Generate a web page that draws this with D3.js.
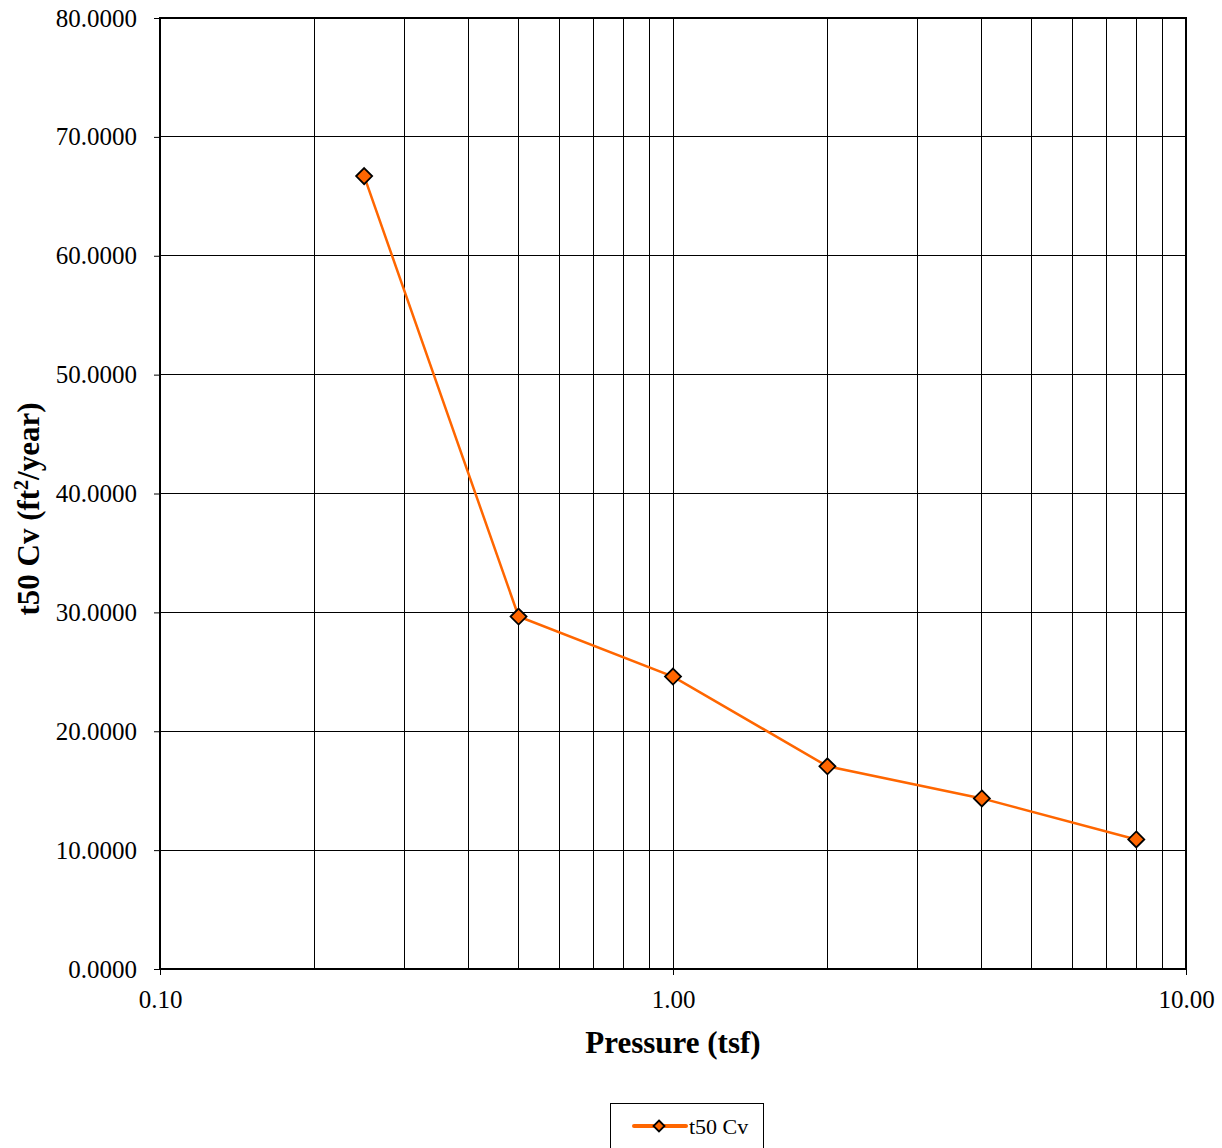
<!DOCTYPE html>
<html><head><meta charset="utf-8">
<script src="https://cdn.jsdelivr.net/npm/d3@7"></script>
<style>body{margin:0;background:#fff}svg{display:block}text{font-family:"Liberation Serif","Times New Roman",serif}</style>
</head><body><div id="chart"></div>
<script>
const pressure = [0.25, 0.5, 1, 2, 4, 8];
const cv = [66.7, 29.65, 24.6, 17.05, 14.35, 10.9];
const seriesName = "t50 Cv";
const xTickValues = [0.1, 1, 10];
const yTickValues = [0, 10, 20, 30, 40, 50, 60, 70, 80];
const xTitle = "Pressure (tsf)";

const W = 1222, H = 1148;
const m = {l:160, t:18, r:1186, b:969};
const svg = d3.select("#chart").append("svg").attr("width", W).attr("height", H);
const x = d3.scaleLog().domain([0.1, 10]).range([m.l, m.r]);
const y = d3.scaleLinear().domain([0, 80]).range([m.b, m.t]);

// minor grid verticals
const minor = [];
for (let d = 0.1; d < 10; d *= 10) for (let k = 2; k <= 9; k++) minor.push(+(d*k).toFixed(3));
const grid = svg.append("g");
grid.selectAll(".vx").data(minor.concat([1])).join("line")
  .attr("x1", d=>x(d)).attr("x2", d=>x(d)).attr("y1", m.t).attr("y2", m.b)
  .attr("stroke", "#000").attr("stroke-width", 1).attr("shape-rendering","crispEdges");
grid.selectAll(".hy").data(yTickValues.slice(1, -1)).join("line")
  .attr("x1", m.l).attr("x2", m.r).attr("y1", d=>y(d)).attr("y2", d=>y(d))
  .attr("stroke", "#000").attr("stroke-width", 1).attr("shape-rendering","crispEdges");

// frame
svg.append("rect").attr("x", m.l).attr("y", m.t).attr("width", m.r-m.l).attr("height", m.b-m.t)
  .attr("fill","none").attr("stroke","#000").attr("stroke-width",2);

// axes
const yAxis = d3.axisLeft(y).tickValues(yTickValues).tickSize(6).tickPadding(17).tickFormat(d=>d3.format(".4f")(d));
const gy = svg.append("g").attr("transform", `translate(${m.l},0)`).call(yAxis);
gy.select(".domain").remove();
gy.selectAll("text").attr("font-size", 25).attr("fill","#000");
gy.selectAll("line").attr("stroke","#000");

const xAxis = d3.axisBottom(x).tickValues(xTickValues).tickSize(6).tickPadding(15).tickFormat(d=>d3.format(".2f")(d));
const gx = svg.append("g").attr("transform", `translate(0,${m.b})`).call(xAxis);
gx.select(".domain").remove();
gx.selectAll("text").attr("font-size", 25).attr("fill","#000");
gx.selectAll("line").attr("stroke","#000");

// titles
svg.append("text").attr("x", (m.l+m.r)/2).attr("y", 1053).attr("text-anchor","middle")
  .attr("font-size", 31).attr("font-weight","bold").text(xTitle);
const yt = svg.append("text").attr("transform", `translate(39,509) rotate(-90)`)
  .attr("text-anchor","middle").attr("font-size", 31).attr("font-weight","bold");
yt.append("tspan").text("t50 Cv (ft");
yt.append("tspan").attr("baseline-shift","super").attr("font-size",20).text("2");
yt.append("tspan").text("/year)");

// series
const data = pressure.map((p,i)=>({p, v:cv[i]}));
const color = "#FF6600";
svg.append("path").datum(data).attr("fill","none").attr("stroke",color).attr("stroke-width",2.5)
  .attr("d", d3.line().x(d=>x(d.p)).y(d=>y(d.v)));
const diamond = s => `M0,${-s}L${s},0L0,${s}L${-s},0Z`;
svg.selectAll(".pt").data(data).join("path")
  .attr("transform", d=>`translate(${x(d.p)},${y(d.v)})`).attr("d", diamond(8))
  .attr("fill", color).attr("stroke","#000").attr("stroke-width",1.8);

// legend
const lg = svg.append("g");
lg.append("rect").attr("x", 610.5).attr("y", 1103.5).attr("width", 153).attr("height", 60)
  .attr("fill","#fff").attr("stroke","#000").attr("stroke-width",1);
lg.append("line").attr("x1", 634).attr("x2", 686).attr("y1", 1126).attr("y2", 1126)
  .attr("stroke", color).attr("stroke-width", 4).attr("stroke-linecap","round");
lg.append("path").attr("transform","translate(659,1126)").attr("d", diamond(5.5))
  .attr("fill", color).attr("stroke","#000").attr("stroke-width",1.8);
lg.append("text").attr("x", 689).attr("y", 1134).attr("font-size", 22).text(seriesName);
</script></body></html>
